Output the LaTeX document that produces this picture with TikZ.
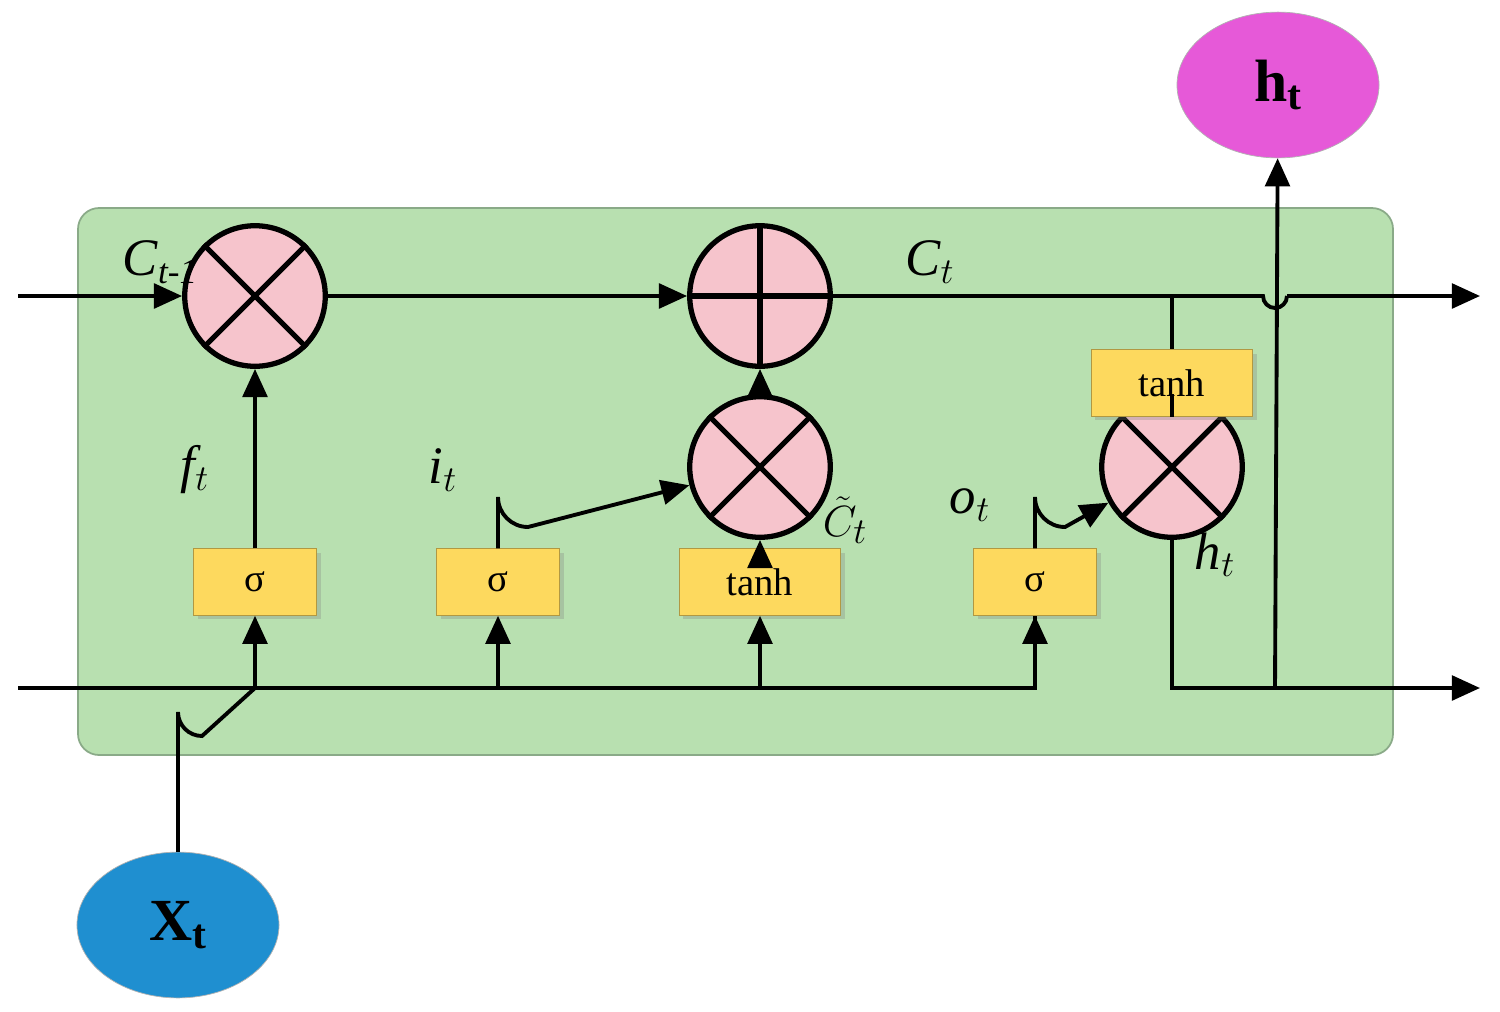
\documentclass[tikz,border=0pt]{standalone}
\usepackage{fontspec}
\setmainfont{Liberation Serif}
\usetikzlibrary{arrows.meta,shadows,shapes.geometric}
\definecolor{bg}{HTML}{B8E0B0}
\definecolor{bgb}{HTML}{8AAA88}
\definecolor{yel}{HTML}{FDD95E}
\definecolor{pk}{HTML}{F6C4CC}
\definecolor{blu}{HTML}{1F8FD0}
\definecolor{mag}{HTML}{E659D8}
\begin{document}
\begin{tikzpicture}[x=0.02cm,y=-0.02cm,
  ln/.style={line width=2.2pt},
  ar/.style={ln,-{Triangle[length=16pt,width=14pt]}},
  op/.style={circle,draw,line width=3pt,fill=pk,minimum size=80pt,inner sep=0pt},
  gate/.style={draw=yel!70!black,fill=yel,minimum height=38pt,inner sep=0pt,font=\fontsize{22}{24}\selectfont,drop shadow={opacity=0.3}},
  lab/.style={font=\fontsize{30}{32}\selectfont\itshape},
  io/.style={ellipse,draw=gray!60,minimum width=115pt,minimum height=83pt,font=\fontsize{34}{36}\selectfont\bfseries}]
\useasboundingbox (0,0) rectangle (1500,1011);
\draw[draw=bgb,fill=bg,rounded corners=12pt,line width=1pt] (78,208) rectangle (1393,755);
% ops
\node[op] (m1) at (255,296) {};
\node[op] (p1) at (760,296) {};
\node[op] (m2) at (760,467) {};
\node[op] (m3) at (1172,467) {};
\foreach \n in {m1,m2,m3}{\draw[line width=3pt] (\n.45)--(\n.225) (\n.135)--(\n.315);}
\draw[line width=3pt] (p1.north)--(p1.south) (p1.west)--(p1.east);
% gates
\node[gate,minimum width=70pt] (s1) at (255,582) {σ};
\node[gate,minimum width=70pt] (s2) at (498,582) {σ};
\node[gate,minimum width=92pt] (t1) at (760,582) {tanh};
\node[gate,minimum width=70pt] (s3) at (1035,582) {σ};
\node[gate,minimum width=92pt] (t2) at (1172,383) {tanh};
% io
\node[io,fill=blu] (x) at (178,925) {X$_{\mathbf t}$};
\node[io,fill=mag] (h) at (1278,85) {h$_{\mathbf t}$};
% coords
\coordinate (cin) at (18,296);
\coordinate (cout) at (1480,296);
\coordinate (hin) at (18,688);
\coordinate (hout) at (1480,688);
\coordinate (hj) at (1275,688);
\coordinate (cj) at (1172,296);
\coordinate (mj) at (1172,688);
% cell line
\draw[ar] (cin)--(m1);
\draw[ar] (m1)--(p1);
\draw[ln] (p1)--(1263,296) arc[start angle=180,end angle=0,radius=12] -- (1287,296);
\draw[ar] (1287,296)--(cout);
% bottom line
\draw[ln] (hin)--(1035,688)--(s3.south);
\draw[ln] (x.north)--(178,712) arc[start angle=180,end angle=90,radius=24]--(255,688);
\foreach \g in {s1,s2,t1,s3}{\draw[ar] (\g.south|-0,688)--(\g.south);}
\draw[ar] (s1)--(m1);
\draw[ar] (s2.north)--(498,497) arc[start angle=180,end angle=90,radius=30]--(m2);
\draw[ar] (t1)--(m2);
\draw[ar] (m2)--(p1);
\draw[ar] (s3.north)--(1035,497) arc[start angle=180,end angle=90,radius=30]--(m3);
\draw[ln] (cj)--(t2) (t2)--(m3) (m3)--(mj)--(hj);
\draw[ar] (hj)--(hout);
\draw[ar] (hj)--(h);
% labels
\node[lab] at (160,262) {C\raisebox{-0.35ex}{\fontsize{20}{22}\selectfont t-1}};
\node[lab] at (930,262) {C$_t$};
\node[lab] at (195,470) {f$_t$};
\node[lab] at (443,470) {i$_t$};
\node[lab] at (845,520) {$\tilde{C}_t$};
\node[lab] at (970,505) {o$_t$};
\node[lab] at (1215,555) {h$_t$};
\end{tikzpicture}
\end{document}
